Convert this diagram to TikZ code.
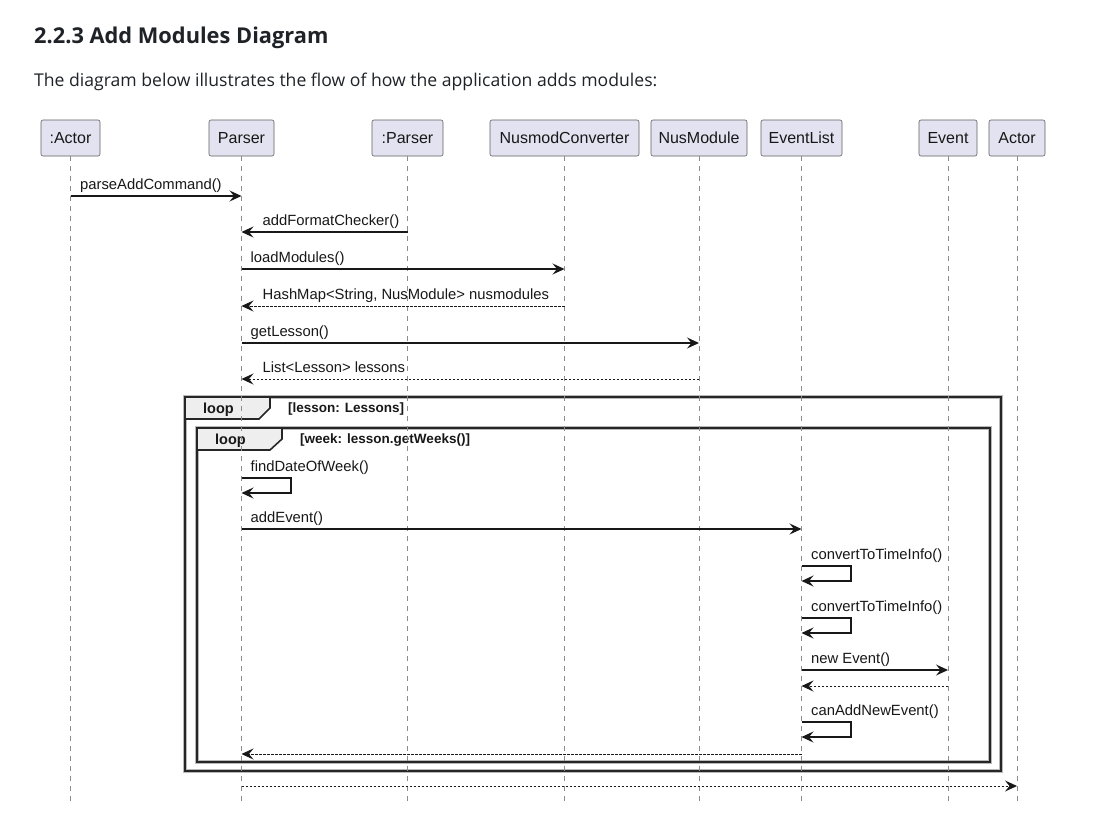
\documentclass[tikz,border=0pt]{standalone}
\usepackage{fontspec}
\setmainfont{Liberation Sans}
\newfontfamily\titlefont{Open Sans}
\usetikzlibrary{arrows.meta}
\definecolor{partfill}{HTML}{E2E2F0}
\definecolor{txt}{HTML}{181818}
\definecolor{tabfill}{HTML}{EEEEEE}
\definecolor{headtxt}{HTML}{1F2328}
\begin{document}
\begin{tikzpicture}[x=1pt,y=-1pt,
  part/.style={draw=gray!75!black, fill=partfill, rounded corners=2pt, line width=0.6pt,
    minimum height=36pt, inner sep=0pt, font=\fontsize{16}{18}\selectfont, text=txt},
  life/.style={draw=gray!90, dash pattern=on 5pt off 5pt, line width=0.8pt},
  msg/.style={draw=txt, line width=1.1pt, -{Stealth[length=12pt,width=11pt,inset=4.5pt]}},
  ret/.style={draw=txt, line width=0.9pt, dash pattern=on 2.2pt off 1.8pt, -{Stealth[length=12pt,width=11pt,inset=4.5pt]}},
  lbl/.style={anchor=base west, font=\fontsize{14.8}{16}\selectfont, text=txt, inner sep=0pt},
  framebg/.style={draw=gray!55, line width=3.4pt},
  framefg/.style={draw=black!85, line width=1.6pt},
  tabbox/.style={fill=tabfill, draw=black!85, line width=1.6pt},
  tabtxt/.style={anchor=west, font=\fontsize{14.5}{16}\selectfont\bfseries, text=txt, inner sep=0pt},
  guardtxt/.style={anchor=west, font=\fontsize{13.5}{16}\selectfont\bfseries, text=txt, inner sep=0pt}
]
\useasboundingbox (0,0) rectangle (1108,822);
\fill[white] (0,0) rectangle (1108,822);

% heading
\node[anchor=base west, inner sep=0pt, text=headtxt, font=\titlefont\fontsize{21.8}{24}\selectfont\bfseries] (title) at (34,43) {2.2.3 Add Modules Diagram};
\node[anchor=base west, inner sep=0pt, text=headtxt, font=\titlefont\fontsize{17.6}{19}\selectfont] (intro) at (34,86) {The diagram below illustrates the flow of how the application adds modules:};

% participants
\node[part, minimum width=59pt] (pA) at (70.5,138) {:Actor};
\node[part, minimum width=65pt] (pP) at (241.5,138) {Parser};
\node[part, minimum width=71pt] (pQ) at (407.5,138) {:Parser};
\node[part, minimum width=149pt] (pN) at (564.5,138) {NusmodConverter};
\node[part, minimum width=96pt] (pM) at (699,138) {NusModule};
\node[part, minimum width=81pt] (pL) at (801.5,138) {EventList};
\node[part, minimum width=58pt] (pE) at (948,138) {Event};
\node[part, minimum width=56pt] (pZ) at (1017,138) {Actor};

\coordinate (bot) at (0,806);

% loop frames
\draw[framebg] (185,397) rectangle (1001,771);
\draw[framefg] (185,397) rectangle (1001,771);
\draw[tabbox] (185,397) -- (270,397) -- (270,408) -- (259,419) -- (185,419) -- cycle;
\node[tabtxt] (loop1) at (203,409.5) {loop};
\node[guardtxt] (g1) at (288,409.5) {[lesson: Lessons]};

\draw[framebg] (197,428) rectangle (990,762);
\draw[framefg] (197,428) rectangle (990,762);
\draw[tabbox] (197,428) -- (282,428) -- (282,439) -- (270,450) -- (197,450) -- cycle;
\node[tabtxt] (loop2) at (215,440.5) {loop};
\node[guardtxt] (g2) at (300,440.5) {[week: lesson.getWeeks()]};

% lifelines
\foreach \p in {pA,pP,pQ,pN,pM,pL,pE,pZ}{
  \draw[life] (\p.south) -- (\p.south |- bot);
}

% message rows
\coordinate (y1) at (0,196);
\coordinate (y2) at (0,232);
\coordinate (y3) at (0,269);
\coordinate (y4) at (0,306);
\coordinate (y5) at (0,343);
\coordinate (y6) at (0,379);
\coordinate (y7) at (0,478);
\coordinate (y8) at (0,529);
\coordinate (y9) at (0,566);
\coordinate (y10) at (0,618);
\coordinate (y11) at (0,670);
\coordinate (y12) at (0,686);
\coordinate (y13) at (0,722);
\coordinate (y14) at (0,754);
\coordinate (y15) at (0,786);

\draw[msg] (pA |- y1) -- (pP |- y1);
\node[lbl] (m1) at ([xshift=9.5pt,yshift=6.5pt]pA |- y1) {parseAddCommand()};

\draw[msg] (pQ |- y2) -- (pP |- y2);
\node[lbl] (m2) at ([xshift=21pt,yshift=6.5pt]pP |- y2) {addFormatChecker()};

\draw[msg] (pP |- y3) -- (pN |- y3);
\node[lbl] (m3) at ([xshift=9pt,yshift=6.5pt]pP |- y3) {loadModules()};

\draw[ret] (pN |- y4) -- (pP |- y4);
\node[lbl] (m4) at ([xshift=21pt,yshift=6.5pt]pP |- y4) {HashMap<String, NusModule> nusmodules};

\draw[msg] (pP |- y5) -- (pM |- y5);
\node[lbl] (m5) at ([xshift=9pt,yshift=6.5pt]pP |- y5) {getLesson()};

\draw[ret] (pM |- y6) -- (pP |- y6);
\node[lbl] (m6) at ([xshift=21pt,yshift=6.5pt]pP |- y6) {List<Lesson> lessons};

\draw[msg] (pP |- y7) -- ++(49.5,0) -- ++(0,15) -- ++(-49.5,0);
\node[lbl] (m7) at ([xshift=9pt,yshift=7pt]pP |- y7) {findDateOfWeek()};

\draw[msg] (pP |- y8) -- (pL |- y8);
\node[lbl] (m8) at ([xshift=9pt,yshift=6.5pt]pP |- y8) {addEvent()};

\draw[msg] (pL |- y9) -- ++(49.5,0) -- ++(0,15) -- ++(-49.5,0);
\node[lbl] (m9) at ([xshift=9.5pt,yshift=7pt]pL |- y9) {convertToTimeInfo()};

\draw[msg] (pL |- y10) -- ++(49.5,0) -- ++(0,15) -- ++(-49.5,0);
\node[lbl] (m10) at ([xshift=9.5pt,yshift=7pt]pL |- y10) {convertToTimeInfo()};

\draw[msg] (pL |- y11) -- (pE |- y11);
\node[lbl] (m11) at ([xshift=9.5pt,yshift=6.5pt]pL |- y11) {new Event()};

\draw[ret] (pE |- y12) -- (pL |- y12);

\draw[msg] (pL |- y13) -- ++(49.5,0) -- ++(0,15) -- ++(-49.5,0);
\node[lbl] (m13) at ([xshift=9.5pt,yshift=7pt]pL |- y13) {canAddNewEvent()};

\draw[ret] (pL |- y14) -- (pP |- y14);
\draw[ret] (pP |- y15) -- (pZ |- y15);
\end{tikzpicture}
\end{document}
